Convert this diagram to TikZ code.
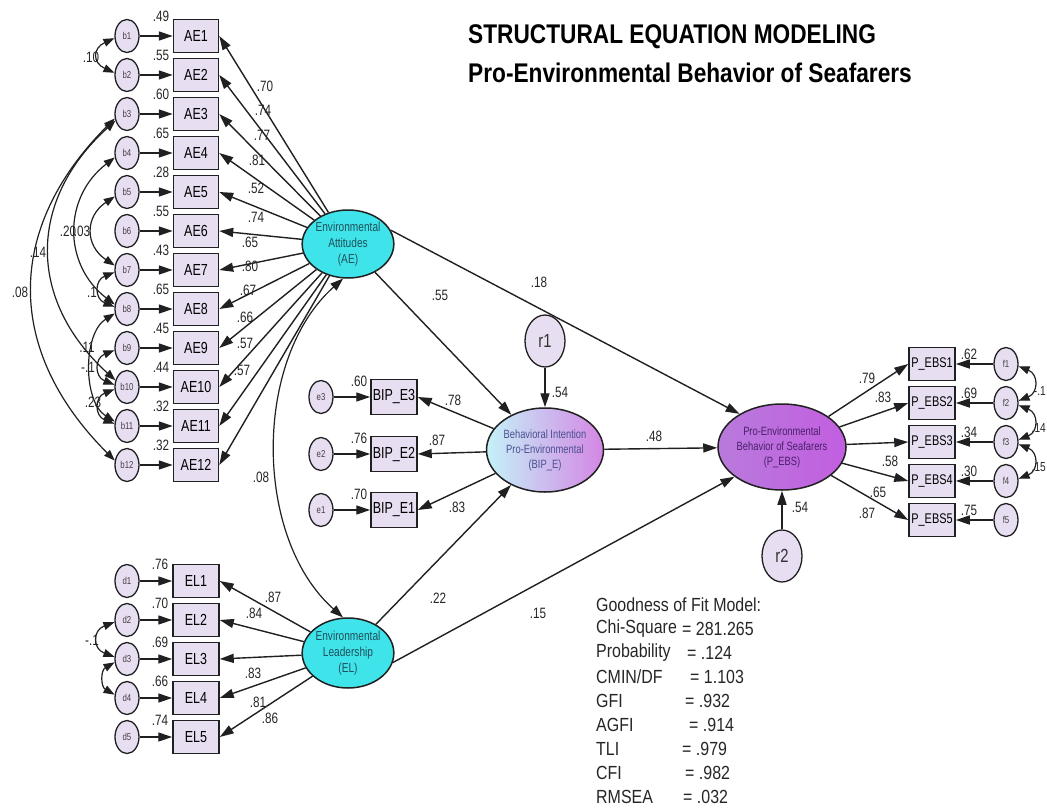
\documentclass[tikz,border=0pt]{standalone}
\usepackage{fontspec}
\setmainfont{Liberation Sans}
\newfontfamily\narrowf[FakeStretch=0.78]{Liberation Sans}
\newfontfamily\titlef[FakeStretch=0.84]{Liberation Sans}
\newfontfamily\fitf[FakeStretch=0.84]{Liberation Sans}
\usetikzlibrary{arrows.meta,shapes.geometric}
\definecolor{lav}{HTML}{E7DEF1}
\definecolor{aqua}{HTML}{3FE3EA}
\definecolor{bipL}{HTML}{C4F2F8}
\definecolor{bipR}{HTML}{D486E4}
\definecolor{pebL}{HTML}{B97ADC}
\definecolor{pebR}{HTML}{C25EE0}
\definecolor{lc}{HTML}{202020}
\definecolor{aetext}{HTML}{20505A}
\definecolor{biptext}{HTML}{4B4F8F}
\definecolor{pebtext}{HTML}{4A1F6A}
\begin{document}
\begin{tikzpicture}[x=1pt,y=-1pt,
  ind/.style={draw=lc, line width=1.5pt, fill=lav, minimum width=45pt, minimum height=33pt, inner sep=0pt, font=\narrowf\fontsize{16}{16}\selectfont},
  err/.style={ellipse, draw=lc, line width=1.3pt, fill=lav, minimum width=24pt, minimum height=33pt, inner sep=0pt, font=\narrowf\fontsize{10}{10}\selectfont, text=black!75},
  lat/.style={ellipse, draw=lc, line width=1.5pt, inner sep=0pt, align=center},
  arr/.style={draw=lc, line width=1.4pt, -{Triangle[length=14pt,width=9pt]}},
  cov/.style={draw=lc, line width=1.2pt, {Triangle[length=11pt,width=8pt]}-{Triangle[length=11pt,width=8pt]}},
  lbl/.style={font=\narrowf\fontsize{15}{15}\selectfont, inner sep=0pt, text=black!85},
  fit/.style={font=\fitf\fontsize{19}{19}\selectfont, inner sep=0pt, anchor=west, text=black!85}
]
\useasboundingbox (0,0) rectangle (1047,808);

% ---------- Title ----------
\node[anchor=west, inner sep=0pt, font=\titlef\bfseries\fontsize{27}{27}\selectfont] (title1) at (468,37) {STRUCTURAL EQUATION MODELING};
\node[anchor=west, inner sep=0pt, font=\titlef\bfseries\fontsize{27}{27}\selectfont] (title2) at (468,73) {Pro-Environmental Behavior of Seafarers};

% ---------- Latent variables ----------
\node[lat, fill=aqua, minimum width=90pt, minimum height=68pt, font=\narrowf\fontsize{13}{16}\selectfont, text=aetext] (AE) at (348,244) {Environmental\\Attitudes\\(AE)};
\node[lat, fill=aqua, minimum width=90pt, minimum height=70pt, font=\narrowf\fontsize{13}{16}\selectfont, text=aetext] (EL) at (348,653) {Environmental\\Leadership\\(EL)};
\node[lat, left color=bipL, right color=bipR, minimum width=110pt, minimum height=84pt, font=\narrowf\fontsize{12}{15}\selectfont, text=biptext] (BIP) at (545,450) {Behavioral Intention\\Pro-Environmental\\(BIP\_E)};
\node[lat, left color=pebL, right color=pebR, minimum width=112pt, minimum height=86pt, font=\narrowf\fontsize{12}{15}\selectfont, text=pebtext] (PEBS) at (782,447) {Pro-Environmental\\Behavior of Seafarers\\(P\_EBS)};
\node[lat, fill=lav, line width=1.3pt, minimum width=40pt, minimum height=52pt, font=\narrowf\fontsize{19}{19}\selectfont, text=black!80] (r1) at (545,341) {r1};
\node[lat, fill=lav, line width=1.3pt, minimum width=40pt, minimum height=52pt, font=\narrowf\fontsize{19}{19}\selectfont, text=black!80] (r2) at (782,556) {r2};

% ---------- AE indicators ----------
\foreach \i in {1,...,12}{
  \node[ind] (AE\i) at (196,{36+39*(\i-1)}) {AE\i};
  \node[err] (b\i) at (127,{36+39*(\i-1)}) {b\i};
  \draw[arr] (b\i) -- (AE\i);
  \draw[arr] (AE) -- (AE\i.east);
}
\foreach \v [count=\i] in {.49,.55,.60,.65,.28,.55,.43,.65,.45,.44,.32,.32}
  \node[lbl] (vAE\i) at (161,{36+39*(\i-1)-20}) {\v};
\foreach \px/\py/\v [count=\i] in {265/86/.70, 263/110/.74, 262/135/.77, 257/160/.81, 256/188/.52, 256/217/.74, 250/242/.65, 250/266/.80, 248/290/.67, 245/317/.66, 245/343/.57, 242/370/.57}
  \node[lbl] (lAE\i) at (\px,\py) {\v};

% covariances among b
\draw[cov] (b1.190) .. controls +(-22,10) and +(-22,-10) .. (b2.170);
\draw[cov] (b3.200) .. controls +(-110,110) and +(-110,-110) .. (b12.160);
\draw[cov] (b3.210) .. controls +(-88,80) and +(-88,-80) .. (b10.150);
\draw[cov] (b4.200) .. controls +(-52,40) and +(-52,-40) .. (b8.160);
\draw[cov] (b5.200) .. controls +(-30,20) and +(-30,-20) .. (b7.160);
\draw[cov] (b7.190) .. controls +(-20,8) and +(-20,-8) .. (b8.170);
\draw[cov] (b8.200) .. controls +(-32,20) and +(-32,-20) .. (b11.160);
\draw[cov] (b9.190) .. controls +(-20,8) and +(-20,-8) .. (b10.170);
\draw[cov] (b10.190) .. controls +(-20,8) and +(-20,-8) .. (b11.170);
\node[lbl] (cb1) at (91,57) {.10};
\node[lbl] (cb2) at (20,292) {.08};
\node[lbl] (cb3) at (38,252) {.14};
\node[lbl] (cb4) at (68,231) {.20};
\node[lbl] (cb5) at (82,231) {.03};
\node[lbl] (cb6) at (92,292) {.1};
\node[lbl] (cb7) at (87,347) {.11};
\node[lbl] (cb8) at (88,367) {-.1};
\node[lbl] (cb9) at (93,402) {.23};

% ---------- BIP indicators ----------
\foreach \n/\py in {3/397, 2/454, 1/510}{
  \node[ind, minimum width=46pt, minimum height=35pt] (BIPE\n) at (394,\py) {BIP\_E\n};
  \node[err] (e\n) at (321,\py) {e\n};
  \draw[arr] (e\n) -- (BIPE\n);
  \draw[arr] (BIP) -- (BIPE\n.east);
}
\node[lbl] (vB3) at (359,381) {.60};
\node[lbl] (vB2) at (359,438) {.76};
\node[lbl] (vB1) at (359,494) {.70};
\node[lbl] (lB3) at (453,400) {.78};
\node[lbl] (lB2) at (437,440) {.87};
\node[lbl] (lB1) at (457,507) {.83};

% ---------- P_EBS indicators ----------
\foreach \n in {1,...,5}{
  \node[ind, minimum width=46pt, font=\narrowf\fontsize{14}{14}\selectfont] (PE\n) at (932,{364+39*(\n-1)}) {P\_EBS\n};
  \node[err] (f\n) at (1006,{364+39*(\n-1)}) {f\n};
  \draw[arr] (f\n) -- (PE\n);
  \draw[arr] (PEBS) -- (PE\n.west);
}
\foreach \v [count=\i] in {.62,.69,.34,.30,.75}
  \node[lbl] (vPE\i) at (969,{354+39*(\i-1)}) {\v};
\node[lbl] (lPE1) at (867,378) {.79};
\node[lbl] (lPE2) at (883,397) {.83};
\node[lbl] (lPE3) at (890,461) {.58};
\node[lbl] (lPE4) at (878,492) {.65};
\node[lbl] (lPE5) at (867,513) {.87};
\draw[cov] (f1.-10) .. controls +(20,8) and +(20,-8) .. (f2.10);
\draw[cov] (f2.-10) .. controls +(20,8) and +(20,-8) .. (f3.10);
\draw[cov] (f3.-10) .. controls +(20,8) and +(20,-8) .. (f4.10);
\node[lbl, anchor=east, font=\narrowf\fontsize{13}{13}\selectfont] (cf1) at (1046,391) {-.1};
\node[lbl, anchor=east, font=\narrowf\fontsize{13}{13}\selectfont] (cf2) at (1046,428) {.14};
\node[lbl, anchor=east, font=\narrowf\fontsize{13}{13}\selectfont] (cf3) at (1046,467) {.15};

% ---------- EL indicators ----------
\foreach \n in {1,...,5}{
  \node[ind, minimum width=46pt] (EL\n) at (196,{581+39*(\n-1)}) {EL\n};
  \node[err] (d\n) at (127,{581+39*(\n-1)}) {d\n};
  \draw[arr] (d\n) -- (EL\n);
  \draw[arr] (EL) -- (EL\n.east);
}
\foreach \v [count=\i] in {.76,.70,.69,.66,.74}
  \node[lbl] (vEL\i) at (160,{564+39*(\i-1)}) {\v};
\node[lbl] (lEL1) at (273,597) {.87};
\node[lbl] (lEL2) at (254,613) {.84};
\node[lbl] (lEL3) at (253,673) {.83};
\node[lbl] (lEL4) at (258,702) {.81};
\node[lbl] (lEL5) at (270,718) {.86};
\draw[cov] (d2.190) .. controls +(-22,8) and +(-22,-8) .. (d3.170);
\draw[cov] (d3.195) .. controls +(-14,8) and +(-14,-8) .. (d4.165);
\node[lbl] (cd1) at (92,640) {-.1};

% ---------- Structural paths ----------
\draw[cov, {Triangle[length=13pt,width=9pt]}-{Triangle[length=13pt,width=9pt]}] (AE.262) .. controls +(-90,80) and +(-90,-80) .. (EL.98);
\draw[arr] (AE) -- (BIP);
\draw[arr] (AE.18) -- (PEBS.142);
\draw[arr] (EL) -- (BIP);
\draw[arr] (EL.-12) -- (PEBS.212);
\draw[arr] (BIP) -- (PEBS);
\draw[arr] (r1) -- (BIP);
\draw[arr] (r2) -- (PEBS);
\node[lbl] (s1) at (440,295) {.55};
\node[lbl] (s2) at (539,282) {.18};
\node[lbl] (s3) at (438,598) {.22};
\node[lbl] (s4) at (538,613) {.15};
\node[lbl] (s5) at (654,436) {.48};
\node[lbl] (s6) at (560,392) {.54};
\node[lbl] (s7) at (800,507) {.54};
\node[lbl] (s8) at (261,477) {.08};

% ---------- Fit statistics ----------
\node[fit] (g0) at (596,605) {Goodness of Fit Model:};
\node[fit] (gl1) at (596,629) {Chi-Square};   \node[fit] (gv1) at (682,629) {= 281.265};
\node[fit] (gl2) at (596,653) {Probability};  \node[fit] (gv2) at (687,653) {= .124};
\node[fit] (gl3) at (596,677) {CMIN/DF};      \node[fit] (gv3) at (690,677) {= 1.103};
\node[fit] (gl4) at (596,701) {GFI};          \node[fit] (gv4) at (685,701) {= .932};
\node[fit] (gl5) at (596,725) {AGFI};         \node[fit] (gv5) at (689,725) {= .914};
\node[fit] (gl6) at (596,749) {TLI};          \node[fit] (gv6) at (682,749) {= .979};
\node[fit] (gl7) at (596,773) {CFI};          \node[fit] (gv7) at (685,773) {= .982};
\node[fit] (gl8) at (596,797) {RMSEA};        \node[fit] (gv8) at (683,797) {= .032};
\end{tikzpicture}
\end{document}
